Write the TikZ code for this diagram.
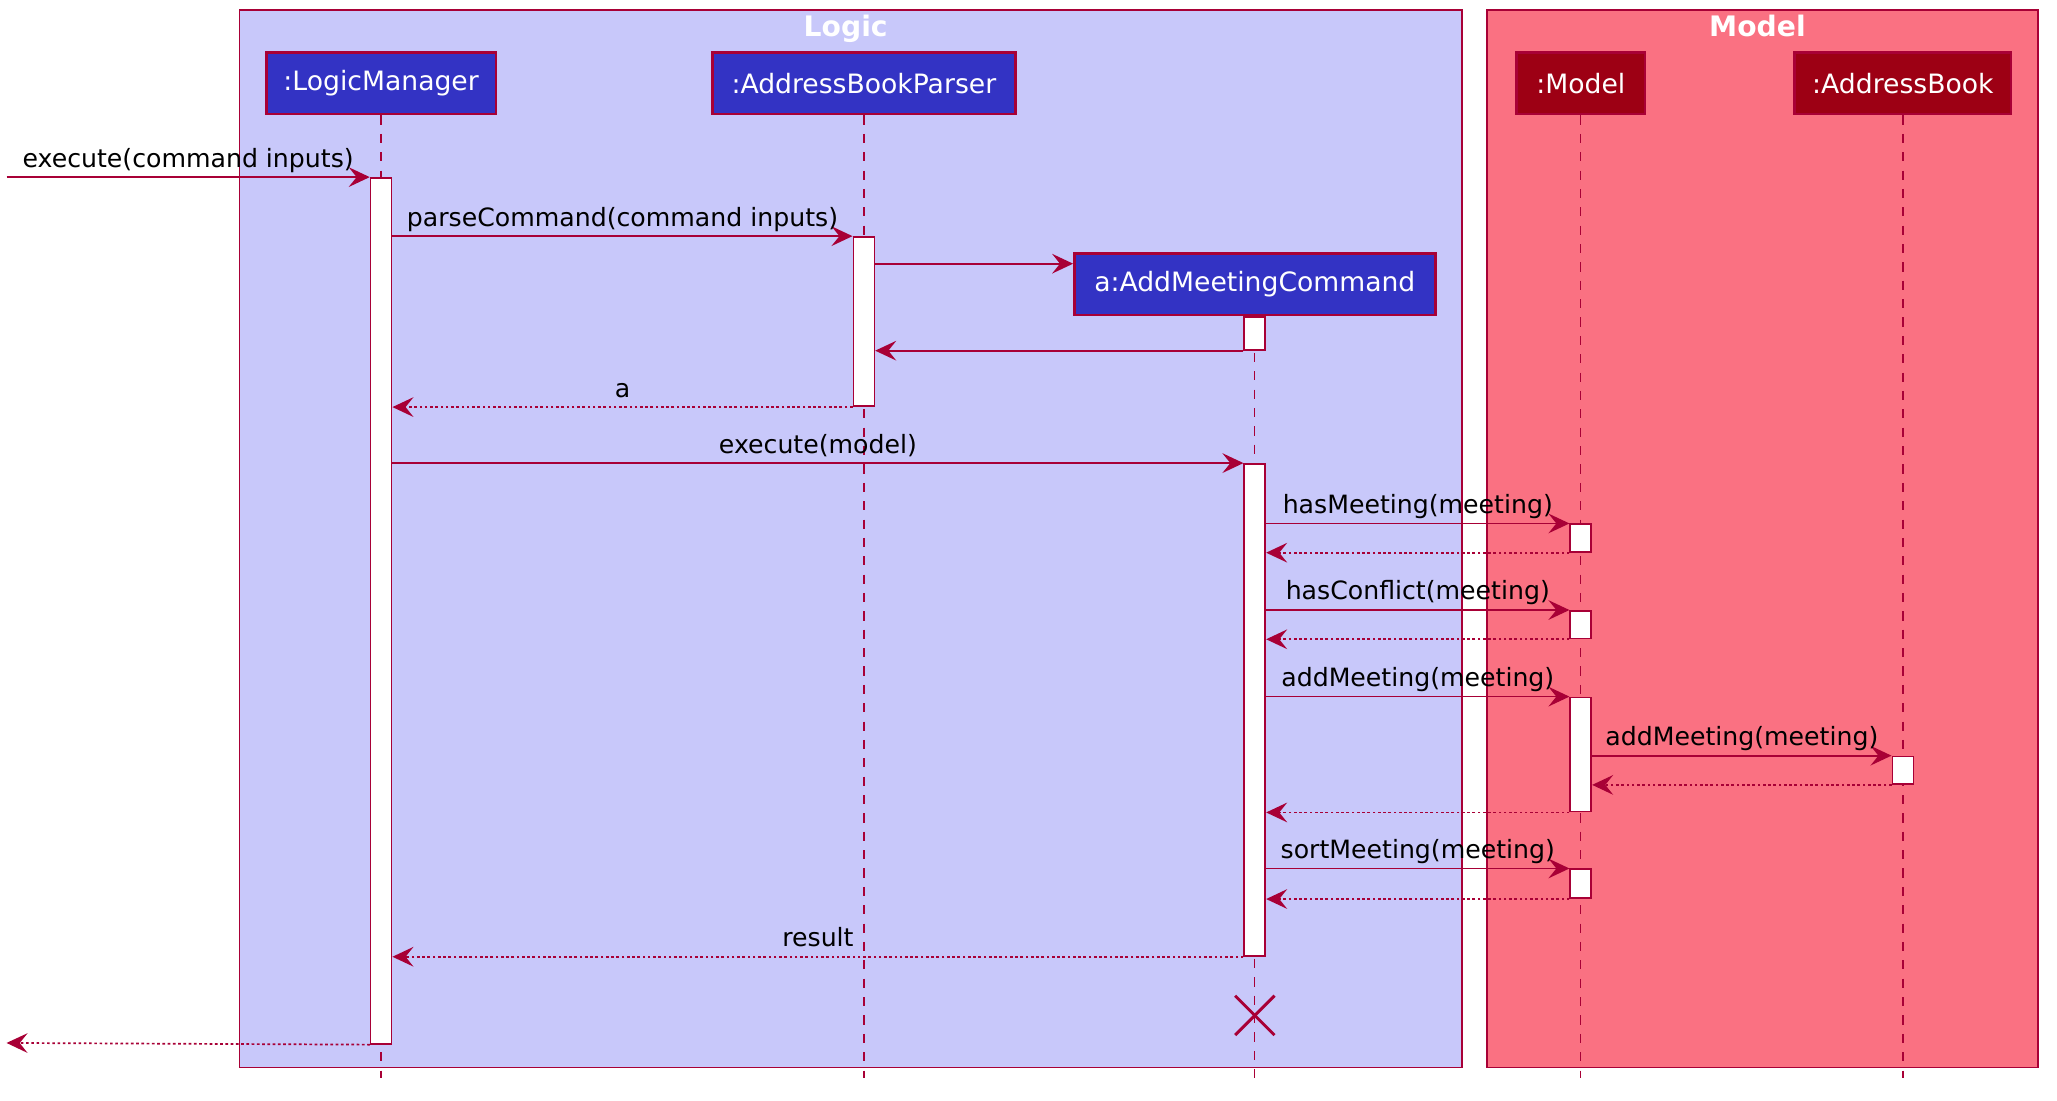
\documentclass[tikz,border=0pt]{standalone}
\usepackage{fontspec}
\setmainfont{DejaVu Sans}
\usetikzlibrary{arrows.meta,calc}
\definecolor{ln}{HTML}{A80036}
\definecolor{logicbg}{HTML}{C8C8FA}
\definecolor{modelbg}{HTML}{FA7182}
\definecolor{pblue}{HTML}{3333C4}
\definecolor{pred}{HTML}{9D0014}
\begin{document}
\begin{tikzpicture}[x=1pt,y=-1pt,
  frame/.style={draw=ln, line width=1.3pt, inner sep=0pt, anchor=north west},
  ftitle/.style={text=white, font=\bfseries\fontsize{21.5}{26}\selectfont, anchor=base, inner sep=0pt},
  part/.style={draw=ln, line width=2pt, text=white, font=\fontsize{20.3}{24}\selectfont, minimum height=47pt, inner sep=0pt, anchor=north west},
  bar/.style={draw=ln, fill=white, line width=1.3pt, minimum width=16pt, inner sep=0pt, anchor=north},
  lifeline/.style={draw=ln, line width=1pt, dash pattern=on 7pt off 7pt},
  msg/.style={draw=ln, line width=1.3pt, -{Stealth[length=16pt,width=15pt,inset=6pt]}},
  ret/.style={msg, dash pattern=on 2pt off 2pt},
  lbl/.style={above, inner sep=2pt, text depth=5pt, text=black, font=\fontsize{19.2}{23}\selectfont},
]
\useasboundingbox[fill=white] (0,0) rectangle (1568,839);

% frames
\node[frame, fill=logicbg, minimum width=932pt, minimum height=806pt] (logic) at (182,7) {};
\node[frame, fill=modelbg, minimum width=420pt, minimum height=806pt] (modelf) at (1133,7) {};
\node[ftitle] (logict) at ($(logic.north)+(-4,21)$) {Logic};
\node[ftitle] (modelt) at ($(modelf.north)+(-4,21)$) {Model};

% participants
\node[part, fill=pblue, minimum width=175pt] (lm) at (202,39) {:LogicManager};
\node[part, fill=pblue, minimum width=231pt] (abp) at (542,39) {:AddressBookParser};
\node[part, fill=pblue, minimum width=275pt] (amc) at (818,192) {a:AddMeetingCommand};
\node[part, fill=pred, minimum width=98pt] (model) at (1155,39) {:Model};
\node[part, fill=pred, minimum width=165pt] (ab) at (1367,39) {:AddressBook};

% lifeline ends
\coordinate (lmend) at (lm.south |- 0,822);
\coordinate (abpend) at (abp.south |- 0,822);
\coordinate (amcend) at (amc.south |- 0,822);
\coordinate (modelend) at (model.south |- 0,822);
\coordinate (abend) at (ab.south |- 0,822);

\draw[lifeline] (lm.south) -- (lmend);
\draw[lifeline] (abp.south) -- (abpend);
\draw[lifeline] (amc.south) -- (amcend);
\draw[lifeline] (model.south) -- (modelend);
\draw[lifeline] (ab.south) -- (abend);

% activation bars
\node[bar, minimum height=660pt] (lmb) at (lm.south |- 0,135) {};
\node[bar, minimum height=129pt] (abpb) at (abp.south |- 0,180) {};
\node[bar, minimum height=25pt] (amcb1) at (amc.south) {};
\node[bar, minimum height=375pt] (amcb2) at (amc.south |- 0,353) {};
\node[bar, minimum height=21pt] (mb1) at (model.south |- 0,399) {};
\node[bar, minimum height=21pt] (mb2) at (model.south |- 0,465) {};
\node[bar, minimum height=87pt] (mb3) at (model.south |- 0,531) {};
\node[bar, minimum height=22pt] (mb4) at (model.south |- 0,662) {};
\node[bar, minimum height=21pt] (abb) at (ab.south |- 0,576) {};

% messages
\coordinate (start) at (5,135);
\coordinate (finish) at (5,795);
\coordinate (create) at (abpb.east |- 0,201);
\draw[msg] (start) -- (lmb.north west) node[lbl, midway] {execute(command inputs)};
\draw[msg] (lmb.east |- abpb.north) -- (abpb.north west) node[lbl, midway] {parseCommand(command inputs)};
\draw[msg] (create) -- (amc.west |- create);
\draw[msg] (amcb1.south west) -- (abpb.east |- amcb1.south);
\draw[ret] (abpb.south west) -- (lmb.east |- abpb.south) node[lbl, midway] {a};
\draw[msg] (lmb.east |- amcb2.north) -- (amcb2.north west) node[lbl, midway] {execute(model)};
\draw[msg] (amcb2.east |- mb1.north) -- (mb1.north west) node[lbl, midway] {hasMeeting(meeting)};
\draw[ret] (mb1.south west) -- (amcb2.east |- mb1.south);
\draw[msg] (amcb2.east |- mb2.north) -- (mb2.north west) node[lbl, midway] {hasConflict(meeting)};
\draw[ret] (mb2.south west) -- (amcb2.east |- mb2.south);
\draw[msg] (amcb2.east |- mb3.north) -- (mb3.north west) node[lbl, midway] {addMeeting(meeting)};
\draw[msg] (mb3.east |- abb.north) -- (abb.north west) node[lbl, midway] {addMeeting(meeting)};
\draw[ret] (abb.south west) -- (mb3.east |- abb.south);
\draw[ret] (mb3.south west) -- (amcb2.east |- mb3.south);
\draw[msg] (amcb2.east |- mb4.north) -- (mb4.north west) node[lbl, midway] {sortMeeting(meeting)};
\draw[ret] (mb4.south west) -- (amcb2.east |- mb4.south);
\draw[ret] (amcb2.south west) -- (lmb.east |- amcb2.south) node[lbl, midway] {result};
\draw[ret] (lmb.south west) -- (finish);

% destroy
\coordinate (destroy) at (amc.south |- 0,774);
\draw[draw=ln, line width=2.2pt] ($(destroy)+(-15,-15)$) -- ($(destroy)+(15,15)$);
\draw[draw=ln, line width=2.2pt] ($(destroy)+(-15,15)$) -- ($(destroy)+(15,-15)$);
\end{tikzpicture}
\end{document}
